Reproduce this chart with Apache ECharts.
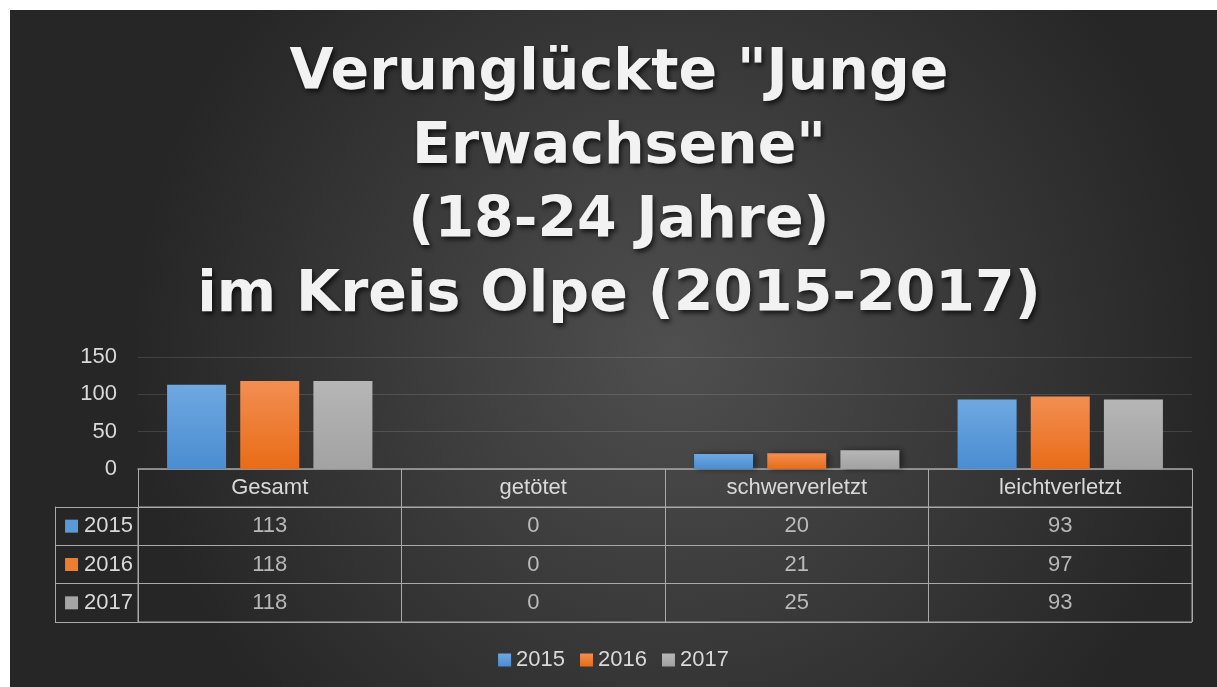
<!DOCTYPE html>
<html>
<head>
<meta charset="utf-8">
<script src="https://cdn.jsdelivr.net/npm/echarts@6/dist/echarts.min.js"></script>
<style>
  html, body { margin: 0; padding: 0; background: #ffffff; }
  #main { position: absolute; left: 10px; top: 10px; width: 1207px; height: 677px; }
</style>
</head>
<body>
<div id="main"></div>
<script>
// Kategorien und Werte
var categories = ['Gesamt', 'getötet', 'schwerverletzt', 'leichtverletzt'];
var years = ['2015', '2016', '2017'];
var values2015 = [113, 0, 20, 93];
var values2016 = [118, 0, 21, 97];
var values2017 = [118, 0, 25, 93];
var yTicks = [0, 50, 100, 150];

var seriesValues = [values2015, values2016, values2017];
var baseColors = ['#5b9bd5', '#ed7d31', '#a5a5a5'];
var gradTop = ['#6ea8e0', '#f28e52', '#b6b6b6'];
var gradBottom = ['#4a8dd2', '#e96c17', '#a2a2a2'];

var textColor = '#d9d9d9';
var lineColor = '#a9a9a9';
var fontFam = '"Liberation Sans", Arial, sans-serif';

var myChart = echarts.init(document.getElementById('main'));

// Tabellenzellen aus den Datenreihen
var tableCells = [];
seriesValues.forEach(function (arr, row) {
  arr.forEach(function (v, col) {
    tableCells.push([col, row, v]);
  });
});

var option = {
  backgroundColor: {
    type: 'radial', x: 0.55, y: 0.5, r: 0.8,
    colorStops: [
      { offset: 0, color: '#4f4f4f' },
      { offset: 1, color: '#262626' }
    ]
  },
  textStyle: { fontFamily: fontFam },
  title: {
    text: 'Verunglückte "Junge\nErwachsene"\n(18-24 Jahre)\nim Kreis Olpe (2015-2017)',
    left: 604,
    top: 22,
    textAlign: 'center',
    textStyle: {
      color: '#f2f2f2',
      fontFamily: '"DejaVu Sans", sans-serif',
      fontWeight: 'bold',
      fontSize: 57,
      lineHeight: 74,
      textShadowColor: 'rgba(0,0,0,0.7)',
      textShadowBlur: 5,
      textShadowOffsetX: 2,
      textShadowOffsetY: 3
    }
  },
  legend: {
    data: years,
    top: 634,
    left: 'center',
    icon: 'rect',
    itemWidth: 13,
    itemHeight: 13,
    itemGap: 15,
    textStyle: { color: textColor, fontSize: 22, fontFamily: fontFam }
  },
  grid: [
    { left: 128, right: 25, top: 347, bottom: 218 },
    { left: 128, right: 25, top: 497, height: 115, show: true, borderColor: lineColor, borderWidth: 1, backgroundColor: 'transparent' }
  ],
  xAxis: [
    {
      gridIndex: 0,
      type: 'category',
      data: categories,
      axisLine: { lineStyle: { color: lineColor, width: 1.5 } },
      axisTick: { show: false },
      axisLabel: { show: false }
    },
    {
      gridIndex: 1,
      type: 'category',
      data: categories,
      position: 'top',
      axisLine: { lineStyle: { color: lineColor } },
      axisTick: { show: true, length: 38, lineStyle: { color: lineColor } },
      axisLabel: { color: textColor, fontSize: 22, margin: 8, fontFamily: fontFam },
      splitLine: { show: true, lineStyle: { color: lineColor } }
    }
  ],
  yAxis: [
    {
      gridIndex: 0,
      type: 'value',
      min: 0,
      max: 150,
      interval: 50,
      axisLine: { show: false },
      axisTick: { show: false },
      axisLabel: { color: textColor, fontSize: 22, margin: 21, fontFamily: fontFam },
      splitLine: { lineStyle: { color: 'rgba(255,255,255,0.13)' } }
    },
    {
      gridIndex: 1,
      type: 'category',
      data: years,
      inverse: true,
      axisLine: { show: true, lineStyle: { color: lineColor } },
      axisTick: { show: true, length: 83, lineStyle: { color: lineColor } },
      splitLine: { show: true, lineStyle: { color: lineColor } },
      axisLabel: {
        margin: 5,
        formatter: function (val, idx) {
          return '{m' + idx + '|}{t|' + val + '}';
        },
        rich: {
          m0: { backgroundColor: baseColors[0], width: 13, height: 13 },
          m1: { backgroundColor: baseColors[1], width: 13, height: 13 },
          m2: { backgroundColor: baseColors[2], width: 13, height: 13 },
          t: { color: textColor, fontSize: 22, padding: [0, 0, 0, 6], fontFamily: fontFam }
        }
      }
    },
    {
      gridIndex: 1,
      type: 'category',
      data: years,
      inverse: true,
      position: 'left',
      offset: 83,
      axisLine: { show: true, lineStyle: { color: lineColor } },
      axisTick: { show: false },
      axisLabel: { show: false },
      splitLine: { show: false }
    }
  ],
  series: years.map(function (y, i) {
    return {
      name: y,
      type: 'bar',
      xAxisIndex: 0,
      yAxisIndex: 0,
      barWidth: 59,
      barGap: '24%',
      data: seriesValues[i],
      itemStyle: {
        color: {
          type: 'linear', x: 0, y: 0, x2: 0, y2: 1,
          colorStops: [
            { offset: 0, color: gradTop[i] },
            { offset: 1, color: gradBottom[i] }
          ]
        },
        shadowColor: 'rgba(0,0,0,0.5)',
        shadowBlur: 6,
        shadowOffsetX: 3,
        shadowOffsetY: 0
      }
    };
  }).concat([{
    name: 'tabelle',
    type: 'scatter',
    xAxisIndex: 1,
    yAxisIndex: 1,
    symbolSize: 1,
    silent: true,
    itemStyle: { color: 'rgba(0,0,0,0)' },
    label: {
      show: true,
      position: 'inside',
      color: textColor,
      fontSize: 22,
      fontFamily: fontFam,
      formatter: function (p) { return p.value[2]; }
    },
    data: tableCells
  }])
};

myChart.setOption(option);
</script>
</body>
</html>
